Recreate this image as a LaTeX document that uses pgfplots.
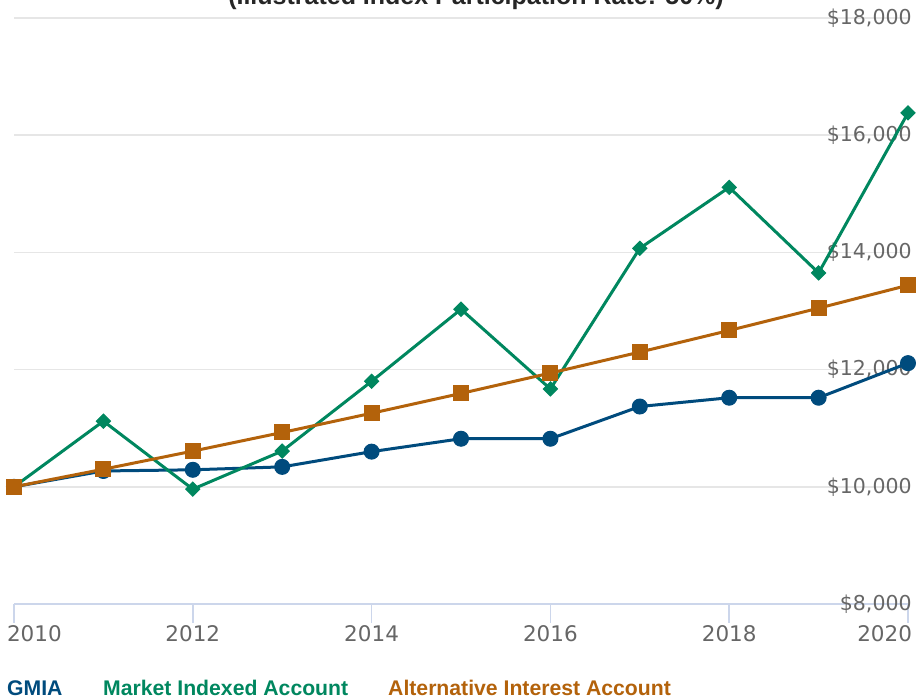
\documentclass[border=0pt]{standalone}
\usepackage{pgfplots}
\pgfplotsset{compat=1.18}
\usepackage{fontspec}
\setmainfont{Liberation Sans}
\newfontfamily\tickfont{DejaVu Sans}
\definecolor{cblue}{HTML}{004B7D}
\definecolor{cgreen}{HTML}{00875F}
\definecolor{corange}{HTML}{B3620B}
\definecolor{xaxisc}{HTML}{CCD6EB}
\definecolor{gridc}{HTML}{E6E6E6}
\definecolor{labc}{HTML}{666666}
\begin{document}
\begin{tikzpicture}[x=1pt,y=1pt]
\begin{axis}[
  at={(14pt,94pt)}, anchor=south west,
  scale only axis, width=894pt, height=586pt,
  xmin=2010, xmax=2020, ymin=8000, ymax=18000,
  axis x line*=bottom, axis y line*=right,
  x axis line style={draw=xaxisc, line width=2pt},
  y axis line style={draw=none},
  xtick={2010,2012,...,2020},
  xticklabels={\makebox[0pt][l]{\hspace{-7pt}2010},2012,2014,2016,2018,\makebox[0pt][r]{2020\hspace{-4pt}}},
  ytick={8000,10000,...,18000},
  yticklabels={{\$8,000},{\$10,000},{\$12,000},{\$14,000},{\$16,000},{\$18,000}},
  scaled y ticks=false, scaled x ticks=false,
  ymajorgrids, grid style={draw=gridc, line width=1.5pt},
  tick align=outside, major tick length=19pt,
  xtick style={draw=xaxisc, line width=1.5pt},
  ytick style={draw=none},
  xticklabel style={font=\tickfont\fontsize{21.5}{24}\selectfont, text=labc, anchor=north, inner sep=0pt, yshift=-2pt},
  yticklabel style={font=\tickfont\fontsize{20.5}{24}\selectfont, text=labc, anchor=east, inner sep=0pt, xshift=-15pt},
  clip=false,
]
\addplot[cblue, line width=3pt, mark=*, mark size=7.5pt, mark options={line width=1pt}] coordinates {
(2010,10000)(2011,10270)(2012,10290)(2013,10340)(2014,10600)(2015,10820)(2016,10820)(2017,11370)(2018,11520)(2019,11520)(2020,12110)};
\addplot[cgreen, line width=3pt, mark=square*, mark size=5pt, mark options={rotate=45, line width=1pt}] coordinates {
(2010,10000)(2011,11120)(2012,9960)(2013,10610)(2014,11800)(2015,13030)(2016,11670)(2017,14070)(2018,15110)(2019,13650)(2020,16380)};
\addplot[corange, line width=3pt, mark=square*, mark size=7.5pt, mark options={line width=1pt}] coordinates {
(2010,10000)(2011,10300)(2012,10609)(2013,10927)(2014,11255)(2015,11593)(2016,11941)(2017,12299)(2018,12668)(2019,13048)(2020,13439)};
\end{axis}
\node[font=\bfseries\fontsize{25}{28}\selectfont, text=black!85, anchor=base] at (476,693) {(Illustrated Index Participation Rate: 50\%)};
\node[font=\bfseries\fontsize{21.2}{24}\selectfont, text=cblue, anchor=base west, inner sep=0pt] at (7,2) {GMIA};
\node[font=\bfseries\fontsize{21.2}{24}\selectfont, text=cgreen, anchor=base west, inner sep=0pt] at (103,2) {Market Indexed Account};
\node[font=\bfseries\fontsize{21.2}{24}\selectfont, text=corange, anchor=base west, inner sep=0pt] at (388,2) {Alternative Interest Account};
\pgfresetboundingbox
\useasboundingbox (0,0) rectangle (916,698);
\end{tikzpicture}
\end{document}
